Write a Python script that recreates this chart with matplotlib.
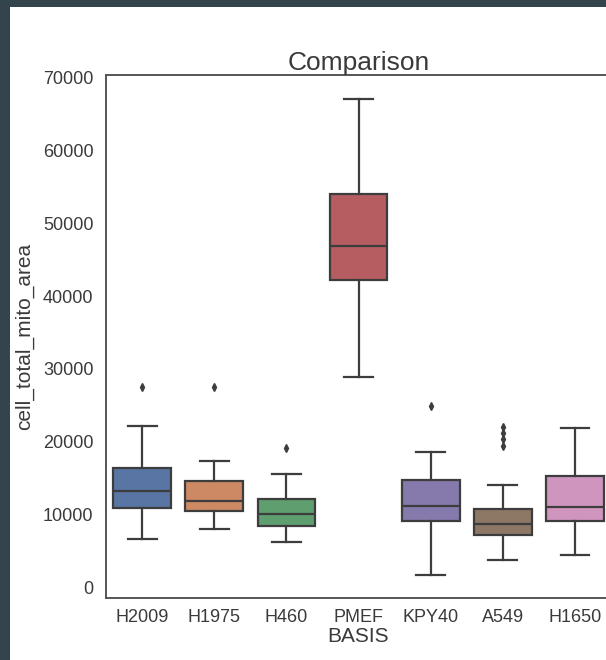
import matplotlib
matplotlib.use("Agg")
import matplotlib.pyplot as plt
from matplotlib.patches import Rectangle
import seaborn as sns

categories = ["H2009", "H1975", "H460", "PMEF", "KPY40", "A549", "H1650"]
whisker_low = [6700, 8100, 6300, 28900, 1800, 3800, 4500]
q1 = [11000, 10500, 8500, 42200, 9200, 7200, 9100]
median = [13300, 11900, 10100, 46800, 11200, 8700, 11100]
q3 = [16400, 14700, 12200, 54000, 14800, 10800, 15300]
whisker_high = [22200, 17400, 15600, 67000, 18600, 14100, 21900]
outliers = [[27500], [27500], [19200], [], [24900], [22000, 21200, 20400, 19500], []]

palette = sns.color_palette("deep", 7)
palette = [sns.desaturate(c, 0.75) for c in palette]

plt.rcParams["font.family"] = ["Liberation Sans", "DejaVu Sans"]

fig = plt.figure(figsize=(6.06, 6.6), dpi=100)
fig.patch.set_facecolor("#34444d")
fig.patches.append(Rectangle((10 / 606, 0), 1, 653 / 660, transform=fig.transFigure,
                             facecolor="white", edgecolor="none", zorder=-5))

ax = fig.add_axes([106 / 606, 62 / 660, 505 / 606, 523 / 660])
ax.set_zorder(1)

stats = []
for i, name in enumerate(categories):
    stats.append({
        "label": name,
        "whislo": whisker_low[i],
        "q1": q1[i],
        "med": median[i],
        "q3": q3[i],
        "whishi": whisker_high[i],
        "fliers": outliers[i],
    })

line_col = "#3d3d3d"
bp = ax.bxp(stats, positions=range(len(categories)), widths=0.8, capwidths=0.4,
            patch_artist=True,
            boxprops=dict(edgecolor=line_col, linewidth=1.6),
            medianprops=dict(color=line_col, linewidth=1.6),
            whiskerprops=dict(color=line_col, linewidth=1.6),
            capprops=dict(color=line_col, linewidth=1.6),
            flierprops=dict(marker="d", markerfacecolor=line_col, markeredgecolor=line_col,
                            markersize=4))
for patch, col in zip(bp["boxes"], palette):
    patch.set_facecolor(col)

ax.set_xlim(-0.5, 6.5)
ax.set_ylim(-1400, 70300)
ax.set_yticks(range(0, 70001, 10000))
ax.set_xticks(range(len(categories)))
ax.set_xticklabels(categories)
ax.tick_params(axis="both", length=0, labelsize=13, colors="#3a3a3a")
ax.tick_params(axis="y", pad=9)
ax.tick_params(axis="x", pad=8)
for s in ax.spines.values():
    s.set_color("#555555")
    s.set_linewidth(1.4)

ax.set_xlabel("BASIS", fontsize=15, color="#3a3a3a", labelpad=1)
ax.set_ylabel("cell_total_mito_area", fontsize=15, color="#3a3a3a", labelpad=6)
ax.set_title("Comparison", fontsize=19, color="#3a3a3a", pad=2)

fig.savefig("out.png", dpi=100, facecolor=fig.get_facecolor())
